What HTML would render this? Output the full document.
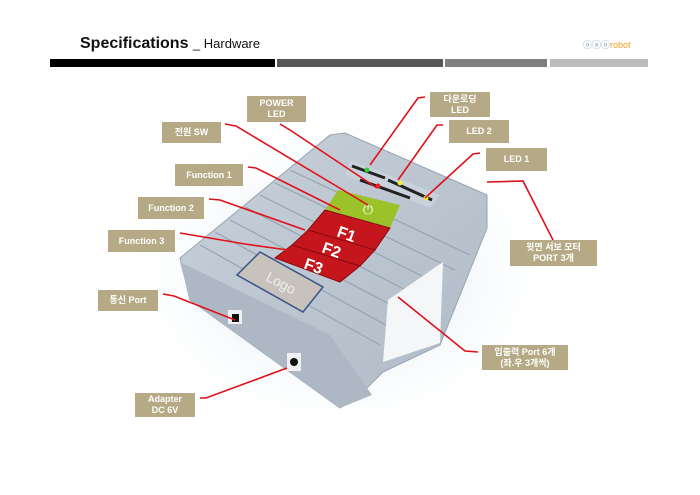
<!DOCTYPE html>
<html><head><meta charset="utf-8"><style>
html,body{margin:0;padding:0;background:#fff;}
body{width:700px;height:495px;position:relative;overflow:hidden;font-family:"Liberation Sans","Noto Sans CJK KR",sans-serif;}
.t{position:absolute;left:80px;top:35px;font-size:16px;font-weight:bold;color:#111;}
.t span{font-weight:normal;font-size:13px;}
.bar{position:absolute;top:59px;height:8px;}
.lb{position:absolute;background:#b5aa85;color:#fff;font-weight:bold;font-size:9px;line-height:11px;text-align:center;display:flex;align-items:center;justify-content:center;}
svg{position:absolute;left:0;top:0;}
</style></head><body>
<div class="t">Specifications <span>_ Hardware</span></div>
<div style="position:absolute;left:583px;top:38px;font-size:9px;color:#7aa0c8">ⓞⓐⓞ<span style="color:#e8a020">robot</span></div>
<div class="bar" style="left:50px;width:225px;background:#000"></div>
<div class="bar" style="left:277px;width:166px;background:#575757"></div>
<div class="bar" style="left:445px;width:102px;background:#808080"></div>
<div class="bar" style="left:550px;width:98px;background:#bcbcbc"></div>
<svg width="700" height="495" viewBox="0 0 700 495">
<defs>
<radialGradient id="gl" cx="0.5" cy="0.5" r="0.5"><stop offset="0" stop-color="#cfe0ee"/><stop offset="1" stop-color="#fff" stop-opacity="0"/></radialGradient>
<linearGradient id="tp" x1="0" y1="0" x2="1" y2="1"><stop offset="0" stop-color="#c8d1db"/><stop offset="1" stop-color="#afbac6"/></linearGradient>
</defs>
<ellipse cx="340" cy="275" rx="230" ry="170" fill="url(#gl)"/>
<polygon points="180,258 330,135 345,133 487,195 487,228 440,345 383,372 360,395 340,408 190,300" fill="url(#tp)" stroke="#98a4b0"/>
<polygon points="180,262 330,335 372,395 340,408 190,300" fill="#adb8c4"/>
<g stroke="#97a3af" stroke-width="1.2" fill="none">
<line x1="200" y1="245" x2="380" y2="345"/><line x1="215" y1="232" x2="395" y2="330"/><line x1="230" y1="220" x2="410" y2="315"/><line x1="245" y1="207" x2="425" y2="300"/><line x1="260" y1="195" x2="440" y2="285"/><line x1="275" y1="183" x2="455" y2="270"/><line x1="290" y1="170" x2="470" y2="255"/>
</g>
<polygon points="388,300 443,262 440,343 383,362" fill="#f4f6f8"/>
<polygon points="350,160 440,195 430,208 345,175" fill="#c9d2dc"/>
<line x1="352" y1="166" x2="385" y2="178" stroke="#222" stroke-width="3"/>
<line x1="388" y1="180" x2="432" y2="200" stroke="#222" stroke-width="3"/>
<line x1="360" y1="180" x2="410" y2="198" stroke="#222" stroke-width="3"/>
<circle cx="367" cy="170" r="2.5" fill="#3c3"/><circle cx="400" cy="183" r="2.5" fill="#ee3"/><circle cx="426" cy="198" r="2.5" fill="#ee3"/><circle cx="378" cy="186" r="2.5" fill="#e22"/>
<polygon points="338,190 400,205 390,228 325,210" fill="#9cc22a"/>
<text x="368" y="214" font-size="13" fill="#fff" text-anchor="middle">⏻</text>
<polygon points="325,210 390,228 375,250 308,230" fill="#c4161c" stroke="#8a0c10"/>
<polygon points="308,230 375,250 360,266 292,245" fill="#c4161c" stroke="#8a0c10"/>
<polygon points="292,245 360,266 340,282 275,258" fill="#c4161c" stroke="#8a0c10"/>
<g fill="#fff" font-weight="bold" font-size="16" font-family="Liberation Sans">
<text transform="translate(336,236) rotate(20)">F1</text>
<text transform="translate(321,252) rotate(20)">F2</text>
<text transform="translate(303,268) rotate(20)">F3</text>
</g>
<polygon points="260,252 323,287 303,312 237,275" fill="#c7c2bc" stroke="#3a5488" stroke-width="1.5"/>
<text transform="translate(265,280) rotate(28)" font-size="14" fill="#eee">Logo</text>
<rect x="228" y="310" width="14" height="14" fill="#eef0f2"/><rect x="232" y="314" width="7" height="8" fill="#111"/>
<rect x="287" y="353" width="14" height="18" fill="#eef0f2"/><circle cx="294" cy="362" r="4" fill="#111"/>
<g stroke="#e0101a" stroke-width="1.6" fill="none">
<polyline points="280,124 290,130 377,188"/>
<polyline points="425,97 418,98 370,165"/>
<polyline points="225,124 236,126 368,205"/>
<polyline points="443,125 437,125 398,180"/>
<polyline points="480,153 473,154 425,198"/>
<polyline points="248,167 256,168 340,210"/>
<polyline points="209,199 220,200 305,230"/>
<polyline points="180,233 245,244 288,250"/>
<polyline points="553,240 523,181 487,182"/>
<polyline points="163,294 174,296 235,320"/>
<polyline points="478,352 465,351 398,297"/>
<polyline points="200,398 206,398 287,368"/>
</g>
</svg>
<div class="lb" style="left:247px;top:96px;width:59px;height:26px">POWER<br>LED</div>
<div class="lb" style="left:430px;top:92px;width:60px;height:25px">다운로딩<br>LED</div>
<div class="lb" style="left:162px;top:122px;width:59px;height:21px">전원 SW</div>
<div class="lb" style="left:449px;top:120px;width:60px;height:23px">LED 2</div>
<div class="lb" style="left:486px;top:148px;width:61px;height:23px">LED 1</div>
<div class="lb" style="left:175px;top:164px;width:68px;height:22px">Function 1</div>
<div class="lb" style="left:138px;top:197px;width:66px;height:22px">Function 2</div>
<div class="lb" style="left:108px;top:230px;width:67px;height:22px">Function 3</div>
<div class="lb" style="left:510px;top:240px;width:87px;height:26px">윗면 서보 모터<br>PORT 3개</div>
<div class="lb" style="left:98px;top:290px;width:60px;height:21px">통신 Port</div>
<div class="lb" style="left:482px;top:345px;width:86px;height:25px">입출력 Port 6개<br>(좌.우 3개씩)</div>
<div class="lb" style="left:135px;top:393px;width:60px;height:24px">Adapter<br>DC 6V</div>
</body></html>
